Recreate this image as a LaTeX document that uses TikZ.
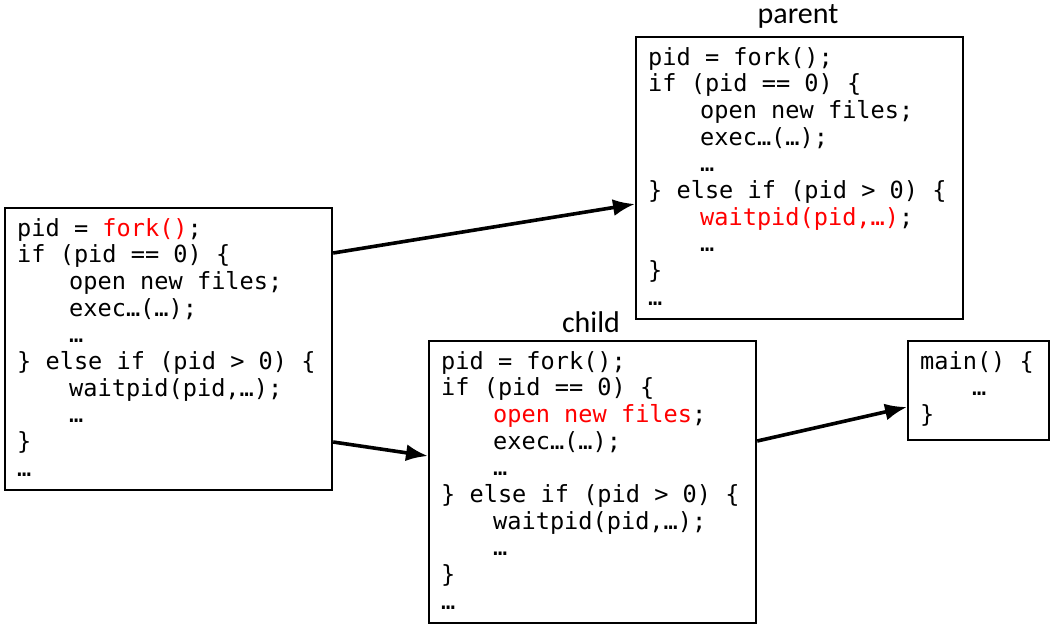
\documentclass[tikz,border=0pt]{standalone}
\usepackage{fontspec}
\setmonofont{DejaVu Sans Mono}
\newfontfamily\labelfont{Carlito}
\usetikzlibrary{arrows.meta}
\newcommand\codefont{\ttfamily\fontsize{23.6}{26.7}\selectfont}
\newcommand\ind{\hspace*{52pt}}
\begin{document}
\begin{tikzpicture}[x=1pt,y=-1pt,
  box/.style={draw, line width=2.2pt, inner sep=0pt, anchor=north west},
  code/.style={anchor=base west, inner sep=0pt, align=left, font=\codefont},
  lbl/.style={font=\labelfont\fontsize{30}{34}\selectfont, anchor=base, inner sep=0pt},
  arr/.style={line width=3.6pt, -{Latex[length=22pt,width=17pt]}}]
\useasboundingbox (0,0) rectangle (1050,625);

% boxes
\node[box, minimum width=327pt, minimum height=282pt] (L) at (4,207) {};
\node[box, minimum width=327pt, minimum height=282pt] (P) at (635,36) {};
\node[box, minimum width=327pt, minimum height=282pt] (C) at (428,340) {};
\node[box, minimum width=141pt, minimum height=99pt] (M) at (907,340) {};

% labels
\node[lbl] (pl) at (798,23) {parent};
\node[lbl] (cl) at (591,332) {child};

% code (anchored at the baseline of the last line)
\node[code] (Lc) at (17,476.3) {pid = {\color{red}fork()};\\
if (pid == 0) \{\\
\ind open new files;\\
\ind exec…(…);\\
\ind …\\
\} else if (pid > 0) \{\\
\ind waitpid(pid,…);\\
\ind …\\
\}\\
…};

\node[code] (Pc) at (648,305.3) {pid = fork();\\
if (pid == 0) \{\\
\ind open new files;\\
\ind exec…(…);\\
\ind …\\
\} else if (pid > 0) \{\\
\ind {\color{red}waitpid(pid,…)};\\
\ind …\\
\}\\
…};

\node[code] (Cc) at (441,609.3) {pid = fork();\\
if (pid == 0) \{\\
\ind {\color{red}open new files};\\
\ind exec…(…);\\
\ind …\\
\} else if (pid > 0) \{\\
\ind waitpid(pid,…);\\
\ind …\\
\}\\
…};

\node[code] (Mc) at (920,422.4) {main() \{\\
\ind …\\
\}};

% arrows
\draw[arr] ([yshift=-46pt]L.north east) -- ([yshift=-168pt]P.north west);
\draw[arr] ([yshift=-235pt]L.north east) -- ([yshift=-116pt]C.north west);
\draw[arr] ([yshift=-101pt]C.north east) -- ([yshift=-67pt]M.north west);
\end{tikzpicture}
\end{document}
